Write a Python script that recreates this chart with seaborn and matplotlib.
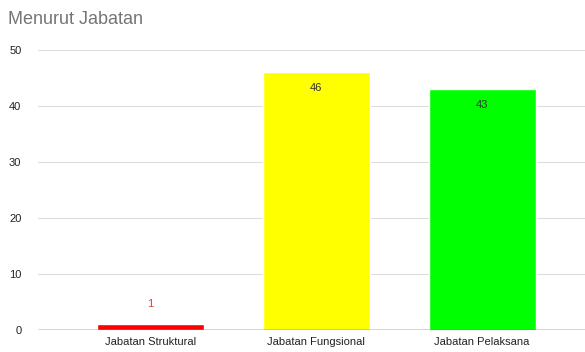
import matplotlib
matplotlib.use("Agg")
import matplotlib.pyplot as plt
import seaborn as sns
import pandas as pd

categories = ["Jabatan Struktural", "Jabatan Fungsional", "Jabatan Pelaksana"]
counts = [1, 46, 43]
colors = ["#ff0000", "#ffff00", "#00ff00"]
label_colors = ["#e53935", "#333333", "#333333"]
y_ticks = [0, 10, 20, 30, 40, 50]

sns.set_theme(style="white")
plt.rcParams['font.family'] = ['Liberation Sans', 'DejaVu Sans']

df = pd.DataFrame({"jabatan": categories, "jumlah": counts})

fig = plt.figure(figsize=(5.85, 3.52), dpi=100)
ax = fig.add_axes([0.065, 0.0625, 0.935, 0.7955])

sns.barplot(data=df, x="jabatan", y="jumlah", hue="jabatan", palette=colors,
            legend=False, width=0.645, ax=ax, saturation=1)

ax.set_ylim(0, 50)
ax.set_xlim(-0.675, 2.62)
ax.set_yticks(y_ticks)
ax.yaxis.grid(True, color="#dddddd", linewidth=0.8)
ax.set_axisbelow(True)
for s in ax.spines.values():
    s.set_visible(False)
ax.axhline(0, color="#333333", linewidth=1, zorder=3)
ax.set_xlabel("")
ax.set_ylabel("")
ax.tick_params(axis="both", length=0, labelsize=8, colors="#222222")
ax.tick_params(axis="y", pad=12)
ax.tick_params(axis="x", pad=5)

# value labels: inside the top of tall bars, above short ones
for i, v in enumerate(counts):
    if v < 5:
        ax.text(i, v + 3.6, str(v), ha="center", va="center", fontsize=8, color=label_colors[i])
    else:
        ax.text(i, v - 2.8, str(v), ha="center", va="center", fontsize=8, color=label_colors[i])

fig.text(0.014, 0.945, "Menurut Jabatan", fontsize=13, color="#757575", ha="left", va="center")

fig.savefig("out.png", dpi=100)
